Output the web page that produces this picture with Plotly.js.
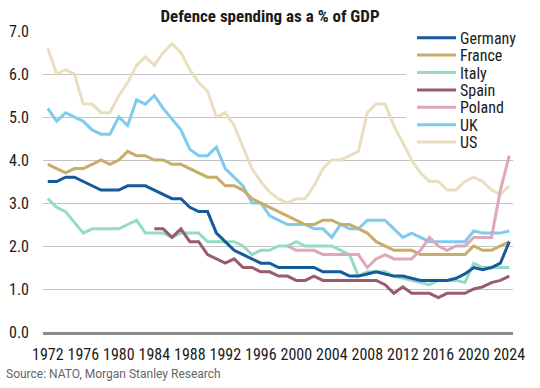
<!DOCTYPE html>
<html>
<head>
<meta charset="utf-8">
<script src="https://cdn.plot.ly/plotly-3.0.1.min.js"></script>
<style>html,body{margin:0;padding:0;background:#fff;}#chart{width:540px;height:388px;}</style>
</head>
<body>
<div id="chart"></div>
<script>
const years = [];
for (let y = 1972; y <= 2024; y++) years.push(y);

const germany = [3.5,3.5,3.6,3.6,3.5,3.4,3.3,3.3,3.3,3.4,3.4,3.4,3.3,3.2,3.1,3.1,2.9,2.8,2.8,2.3,2.1,1.9,1.8,1.7,1.6,1.6,1.5,1.5,1.5,1.5,1.5,1.4,1.4,1.4,1.3,1.3,1.35,1.4,1.35,1.3,1.3,1.25,1.2,1.2,1.2,1.2,1.25,1.35,1.5,1.45,1.5,1.6,2.1];
const france = [3.9,3.8,3.7,3.8,3.8,3.9,4.0,3.9,4.0,4.2,4.1,4.1,4.0,4.0,3.9,3.9,3.8,3.7,3.6,3.6,3.4,3.4,3.3,3.1,3.0,2.9,2.8,2.7,2.6,2.5,2.5,2.6,2.6,2.5,2.5,2.4,2.3,2.1,2.0,1.9,1.9,1.9,1.8,1.8,1.8,1.8,1.8,1.8,2.0,1.9,1.9,2.0,2.1];
const italy = [3.1,2.9,2.8,2.55,2.3,2.4,2.4,2.4,2.4,2.5,2.6,2.3,2.3,2.3,2.2,2.3,2.3,2.3,2.1,2.1,2.1,2.1,2.0,1.8,1.9,1.9,2.0,2.0,2.1,2.0,2.0,2.0,2.0,1.9,1.8,1.3,1.4,1.4,1.4,1.3,1.25,1.2,1.15,1.1,1.2,1.2,1.2,1.15,1.6,1.5,1.5,1.5,1.5];
const spain = [null,null,null,null,null,null,null,null,null,null,null,null,2.4,2.4,2.2,2.4,2.1,2.1,1.8,1.7,1.6,1.7,1.5,1.5,1.4,1.4,1.3,1.3,1.2,1.2,1.3,1.2,1.2,1.2,1.2,1.2,1.2,1.2,1.1,0.9,1.05,0.9,0.9,0.9,0.8,0.9,0.9,0.9,1.0,1.05,1.15,1.2,1.3];
const poland = [null,null,null,null,null,null,null,null,null,null,null,null,null,null,null,null,null,null,null,null,null,null,null,null,null,null,null,2.0,1.9,1.9,1.9,1.8,1.8,1.8,1.8,1.8,1.5,1.7,1.8,1.7,1.7,1.7,1.9,2.2,2.0,1.9,2.0,2.0,2.2,2.2,2.2,3.3,4.1];
const uk = [5.2,4.9,5.1,5.0,4.9,4.7,4.6,4.6,5.0,4.8,5.4,5.3,5.5,5.2,4.95,4.7,4.25,4.1,4.1,4.3,3.8,3.6,3.4,3.0,3.0,2.7,2.6,2.5,2.5,2.5,2.4,2.4,2.2,2.5,2.4,2.4,2.6,2.6,2.6,2.4,2.2,2.3,2.2,2.1,2.1,2.1,2.1,2.1,2.35,2.3,2.3,2.3,2.35];
const us = [6.6,6.0,6.1,6.0,5.3,5.3,5.1,5.1,5.5,5.8,6.2,6.4,6.2,6.5,6.7,6.5,6.1,5.8,5.6,5.0,5.1,4.8,4.3,3.8,3.5,3.25,3.1,3.0,3.1,3.1,3.4,3.8,4.0,4.0,4.1,4.2,5.1,5.3,5.3,4.8,4.4,4.0,3.7,3.5,3.5,3.3,3.3,3.5,3.6,3.5,3.3,3.2,3.4];

const seriesNames = ["Germany","France","Italy","Spain","Poland","UK","US"];
const seriesValues = [germany, france, italy, spain, poland, uk, us];
const seriesColors = ["#165a9c","#c9ab6a","#95dcc6","#9a5a6f","#dfa7b7","#7fcbee","#e9dfc0"];
const yTicks = [0,1,2,3,4,5,6,7];
const xTicks = [1972,1976,1980,1984,1988,1992,1996,2000,2004,2008,2012,2016,2020,2024];

const narrow = '"Roboto Condensed","Liberation Sans Narrow","Arial Narrow",Roboto,sans-serif';

// draw order: back to front (US at back, Germany on top)
const order = [6,5,1,2,4,3,0];
const traces = order.map(i => ({
  x: years, y: seriesValues[i], name: seriesNames[i], type: 'scatter', mode: 'lines',
  line: {color: seriesColors[i], width: 3}, connectgaps: false, hoverinfo: 'skip', showlegend: false
}));

// plot area geometry (px) used for the legend placement
const W = 540, H = 388, mL = 43, mR = 27, mT = 31, mB = 56;
const pw = W - mL - mR, ph = H - mT - mB;
const px2x = p => (p - mL) / pw;
const py2y = p => (H - mB - p) / ph;

const shapes = [{
  type: 'rect', xref: 'paper', yref: 'paper', layer: 'above',
  x0: px2x(406), x1: px2x(540), y0: py2y(145), y1: py2y(26),
  fillcolor: '#ffffff', line: {width: 0}
}];
const annotations = [];
seriesNames.forEach((n, i) => {
  const yp = 37.7 + i * 17.4;
  shapes.push({type: 'line', xref: 'paper', yref: 'paper', layer: 'above',
    x0: px2x(417), x1: px2x(456), y0: py2y(yp), y1: py2y(yp),
    line: {color: seriesColors[i], width: 3}});
  annotations.push({xref: 'paper', yref: 'paper', x: px2x(458), y: py2y(yp + 0.5),
    xanchor: 'left', yanchor: 'middle', showarrow: false, text: n, height: 17, valign: 'middle',
    font: {family: narrow, size: 16, color: '#1a1a1a'}});
});
annotations.push({xref: 'paper', yref: 'paper', x: px2x(4), y: py2y(373.5),
  xanchor: 'left', yanchor: 'middle', showarrow: false,
  text: 'Source: NATO, Morgan Stanley Research',
  font: {family: 'Roboto, sans-serif', size: 12, color: '#666666'}});

const layout = {
  width: W, height: H,
  margin: {l: mL, r: mR, t: mT, b: mB, pad: 0},
  paper_bgcolor: '#ffffff', plot_bgcolor: '#ffffff',
  showlegend: false,
  title: {text: '<b>Defence spending as a % of GDP</b>', x: 0.5, xref: 'container', xanchor: 'center',
    y: 1 - 16/H, yref: 'container', yanchor: 'middle',
    font: {family: narrow, size: 17, color: '#1a1a1a'}},
  xaxis: {
    range: [1971.46, 2024.42], tickvals: xTicks, ticktext: xTicks.map(String),
    showgrid: false, zeroline: false, showline: true, linecolor: '#8c8c8c', linewidth: 2.5,
    ticks: '', ticklabelstandoff: 6,
    tickfont: {family: narrow, size: 16, color: '#1a1a1a'}, fixedrange: true
  },
  yaxis: {
    range: [0, 7], tickvals: yTicks, ticktext: yTicks.map(v => v.toFixed(1)),
    showgrid: true, gridcolor: '#c4c4c4', gridwidth: 1, zeroline: false, showline: false,
    ticks: '', ticklabelstandoff: 13,
    tickfont: {family: narrow, size: 16, color: '#1a1a1a'}, fixedrange: true
  },
  shapes: shapes, annotations: annotations, hovermode: false
};

Plotly.newPlot('chart', traces, layout, {staticPlot: true, displayModeBar: false});
</script>
</body>
</html>
